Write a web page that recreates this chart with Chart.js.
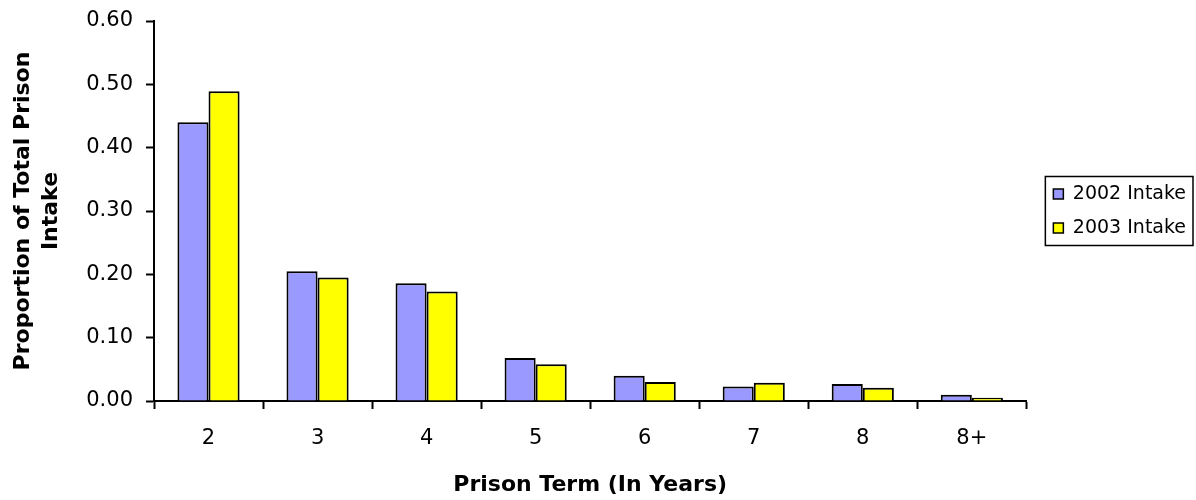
<!DOCTYPE html>
<html>
<head>
<meta charset="utf-8">
<script src="https://cdn.jsdelivr.net/npm/chart.js@4.4.1/dist/chart.umd.min.js"></script>
<style>
  html, body { margin: 0; padding: 0; background: #fff; }
  #wrap { width: 1196px; height: 500px; }
</style>
</head>
<body>
<div id="wrap"><canvas id="myChart" width="1196" height="500"></canvas></div>
<script>
const terms = ['2', '3', '4', '5', '6', '7', '8', '8+'];
const intake2002 = [0.44, 0.205, 0.186, 0.068, 0.040, 0.023, 0.027, 0.010];
const intake2003 = [0.489, 0.195, 0.173, 0.058, 0.030, 0.029, 0.021, 0.005];

const fontFamily = '"DejaVu Sans", "Liberation Sans", Arial, sans-serif';

// nudge the legend a bit to the right of the plot, then frame it
const legendFrame = {
    id: 'legendFrame',
    afterLayout(chart) {
        const lg = chart.legend;
        lg.left += 12;
        lg.right += 12;
    },
    afterDraw(chart) {
        const boxes = chart.legend.legendHitBoxes;
        if (!boxes || !boxes.length) return;
        let l = Infinity, t = Infinity, r = -Infinity, b = -Infinity;
        boxes.forEach(h => {
            l = Math.min(l, h.left);
            t = Math.min(t, h.top);
            r = Math.max(r, h.left + h.width);
            b = Math.max(b, h.top + h.height);
        });
        const ctx = chart.ctx;
        ctx.save();
        ctx.strokeStyle = '#000';
        ctx.lineWidth = 1.5;
        ctx.strokeRect(l - 8, t - 8, (r - l) + 15, (b - t) + 16);
        ctx.restore();
    }
};

const ctx = document.getElementById('myChart').getContext('2d');
new Chart(ctx, {
    type: 'bar',
    data: {
        labels: terms,
        datasets: [
            {
                label: '2002 Intake',
                data: intake2002,
                backgroundColor: '#9999FF',
                borderColor: '#000',
                borderWidth: 2,
                borderSkipped: 'bottom'
            },
            {
                label: '2003 Intake',
                data: intake2003,
                backgroundColor: '#FFFF00',
                borderColor: '#000',
                borderWidth: 2,
                borderSkipped: 'bottom'
            }
        ]
    },
    options: {
        responsive: false,
        animation: false,
        layout: { padding: { top: 21, right: 12, bottom: 0, left: 0 } },
        datasets: {
            bar: { barPercentage: 1.0, categoryPercentage: 0.57 }
        },
        plugins: {
            tooltip: { enabled: false },
            legend: {
                position: 'right',
                fullSize: false,
                labels: {
                    boxWidth: 10,
                    boxHeight: 10,
                    padding: 15,
                    color: '#000',
                    font: { family: fontFamily, size: 19 },
                    generateLabels(chart) {
                        return chart.data.datasets.map((ds, i) => ({
                            text: ds.label,
                            fillStyle: ds.backgroundColor,
                            strokeStyle: '#000',
                            lineWidth: 1.5,
                            datasetIndex: i
                        }));
                    }
                }
            }
        },
        scales: {
            x: {
                afterFit(scale) { scale.height = 99; },
                grid: {
                    display: true,
                    drawOnChartArea: false,
                    drawTicks: true,
                    tickLength: 8,
                    tickWidth: 2,
                    color: '#000',
                    offset: true
                },
                border: { display: true, color: '#000', width: 2 },
                ticks: {
                    color: '#000',
                    padding: 17,
                    font: { family: fontFamily, size: 21 }
                },
                title: {
                    display: true,
                    text: 'Prison Term (In Years)',
                    color: '#000',
                    padding: { top: 0, bottom: 2 },
                    font: { family: fontFamily, size: 22, weight: 'bold' }
                }
            },
            y: {
                min: 0,
                max: 0.6,
                afterFit(scale) {
                    scale.width = 154;
                    scale.paddingTop = 0;
                },
                grid: {
                    display: true,
                    drawOnChartArea: false,
                    drawTicks: true,
                    tickLength: 8,
                    tickWidth: 2,
                    color: '#000'
                },
                border: { display: true, color: '#000', width: 2 },
                ticks: {
                    stepSize: 0.1,
                    color: '#000',
                    padding: 13,
                    font: { family: fontFamily, size: 21 },
                    callback: v => Number(v).toFixed(2)
                },
                title: {
                    display: true,
                    text: ['Proportion of Total Prison', 'Intake'],
                    color: '#000',
                    padding: { top: 9, bottom: 0 },
                    font: { family: fontFamily, size: 22, weight: 'bold', lineHeight: 1.27 }
                }
            }
        }
    },
    plugins: [legendFrame]
});
</script>
</body>
</html>
